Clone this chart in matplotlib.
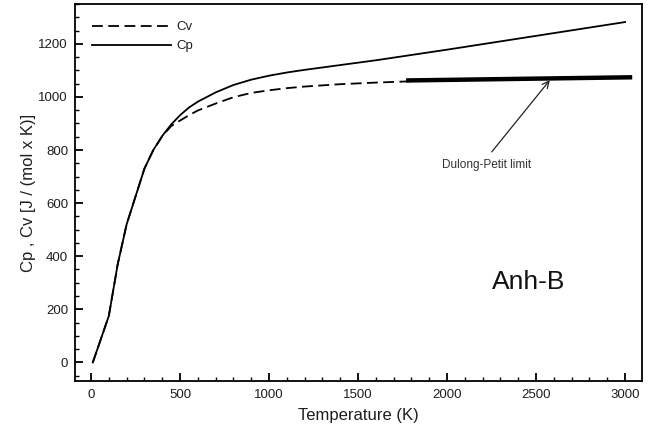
import matplotlib
matplotlib.use("Agg")
import matplotlib.pyplot as plt
from matplotlib.ticker import MultipleLocator

plt.rcParams['font.family'] = ['Liberation Sans', 'DejaVu Sans']

# Data
T = [10, 100, 150, 200, 250, 300, 350, 400, 450, 500, 550, 600, 700, 800, 900,
     1000, 1100, 1200, 1400, 1600, 1800, 2000, 2500, 3000]
Cp = [0, 175, 370, 520, 625, 730, 800, 853, 896, 931, 960, 982, 1017, 1045, 1065,
      1080, 1092, 1102, 1120, 1138, 1158, 1178, 1230, 1282]
Cv = [0, 175, 370, 520, 625, 730, 800, 852, 890, 911, 931, 949, 975, 999, 1015,
      1025, 1033, 1039, 1048, 1054, 1059, 1062, 1068, 1073]

DP_T = [1770, 3040]
DP_val = [1062, 1074]

xlim = (-90, 3095)
ylim = (-70, 1350)
xticks = [0, 500, 1000, 1500, 2000, 2500, 3000]
yticks = [0, 200, 400, 600, 800, 1000, 1200]

fig = plt.figure(figsize=(6.59, 4.28), dpi=100)
ax = fig.add_axes([75/659, 1-381/428, (642-75)/659, (381-4)/428])

txt = '#1e1e1e'
ax.plot(DP_T, DP_val, color='black', lw=3.2, solid_capstyle='butt', zorder=2)
ax.plot(T, Cv, color='black', lw=1.3, dashes=(6, 3), label='Cv', zorder=3)
ax.plot(T, Cp, color='black', lw=1.3, label='Cp', zorder=3)

ax.set_xlim(*xlim)
ax.set_ylim(*ylim)
ax.set_xticks(xticks)
ax.set_yticks(yticks)
ax.xaxis.set_minor_locator(MultipleLocator(100))
ax.yaxis.set_minor_locator(MultipleLocator(50))
ax.tick_params(which='major', direction='in', length=6, width=1.3, labelsize=9.5,
               colors='black', labelcolor=txt, top=False, right=False)
ax.tick_params(which='minor', direction='in', length=3, width=1.0, top=False, right=False)
ax.tick_params(axis='x', pad=6)
ax.tick_params(axis='y', pad=5)
for s in ax.spines.values():
    s.set_linewidth(1.3)

ax.set_xlabel('Temperature (K)', fontsize=12, color=txt, labelpad=5)
ax.set_ylabel('Cp , Cv [J / (mol x K)]', fontsize=12, color=txt, labelpad=2)

leg = ax.legend(loc='upper left', frameon=False, fontsize=9.5, handlelength=6.0,
                handletextpad=0.4, labelspacing=0.5, borderaxespad=1.1, borderpad=0.2)
for t in leg.get_texts():
    t.set_color(txt)

ax.annotate('', xy=(2577, 1063), xytext=(2251, 793),
            arrowprops=dict(arrowstyle='->', color='#222222', lw=0.9,
                            mutation_scale=12, shrinkA=0, shrinkB=0))
ax.text(2222, 743, 'Dulong-Petit limit', fontsize=8.5, color='#333333',
        ha='center', va='center')
ax.text(2461, 302, 'Anh-B', fontsize=19, color='#111111', ha='center', va='center')

fig.savefig('out.png', dpi=100)
